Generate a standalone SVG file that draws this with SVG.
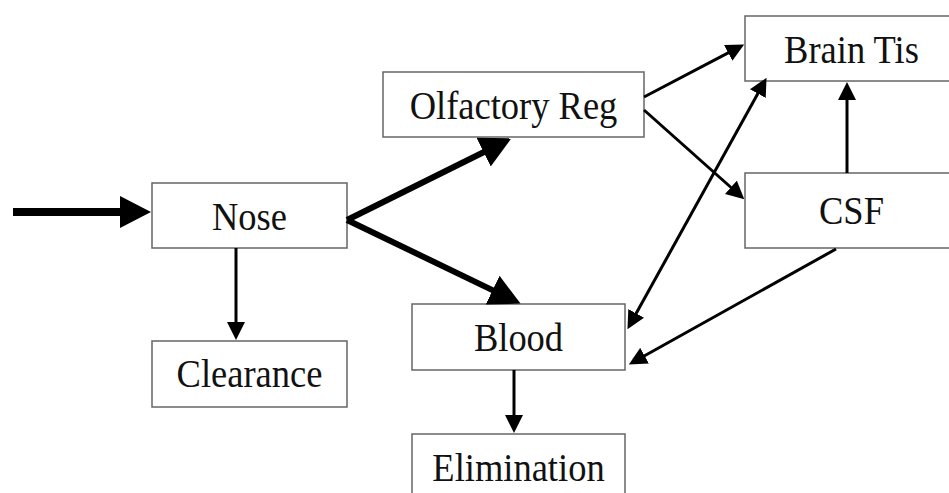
<svg xmlns="http://www.w3.org/2000/svg" width="949" height="493" viewBox="0 0 949 493">
<style>
.box{fill:#fff;stroke:#666;stroke-width:1.5}
.lbl{font-family:"Liberation Serif","Times New Roman",serif;font-size:36.5px;fill:#111;text-anchor:middle}
.thin{stroke:#000;stroke-width:3;fill:none;marker-end:url(#ah)}
.thick{stroke:#000;stroke-width:6;fill:none;marker-end:url(#ahb)}
</style>
<defs>
<marker id="ah" viewBox="0 0 18 18" refX="1" refY="9" markerWidth="18" markerHeight="18" markerUnits="userSpaceOnUse" orient="auto-start-reverse"><path d="M0,0 L18,9 L0,18 z" fill="#000"/></marker>
<marker id="ahb" viewBox="0 0 31 32" refX="1" refY="16" markerWidth="31" markerHeight="32" markerUnits="userSpaceOnUse" orient="auto"><path d="M0,0 L31,16 L0,32 z" fill="#000"/></marker>
</defs>
<rect width="949" height="493" fill="#fff"/>
<g id="nose"><rect class="box" x="152" y="183" width="195" height="65"/><text class="lbl" transform="translate(249.5,230) scale(1,1.08)">Nose</text></g>
<g id="olfactory"><rect class="box" x="383" y="72" width="261" height="65"/><text class="lbl" transform="translate(513.5,119) scale(1,1.08)">Olfactory Reg</text></g>
<g id="brain"><rect class="box" x="745" y="16" width="213" height="65"/><text class="lbl" transform="translate(851.5,63) scale(1,1.08)">Brain Tis</text></g>
<g id="csf"><rect class="box" x="745" y="173" width="213" height="75"/><text class="lbl" transform="translate(851.5,224) scale(1,1.08)">CSF</text></g>
<g id="clearance"><rect class="box" x="152" y="341" width="195" height="66"/><text class="lbl" transform="translate(249.5,387) scale(1,1.08)">Clearance</text></g>
<g id="blood"><rect class="box" x="412" y="304" width="213" height="66"/><text class="lbl" transform="translate(518.5,351) scale(1,1.08)">Blood</text></g>
<g id="elimination"><rect class="box" x="412" y="434" width="213" height="70"/><text class="lbl" transform="translate(518.5,481) scale(1,1.08)">Elimination</text></g>
<g id="connectors">
<path class="thick" d="M13,212 L121,212" style="stroke-width:8"/>
<path class="thick" d="M347,220 L484.5,151.7"/>
<path class="thick" d="M347,220 L493.5,290.6"/>
<path class="thin" d="M644,97 L729.1,52.4"/>
<path class="thin" d="M644,110 L731.6,188"/>
<path class="thin" d="M635.7,314.3 L758.3,92.7" style="marker-start:url(#ah)"/>
<path class="thin" d="M847,173 L847,99"/>
<path class="thin" d="M836,249 L643.7,356.2"/>
<path class="thin" d="M236,248 L236,323"/>
<path class="thin" d="M514,370 L514,416"/>
</g>
</svg>
